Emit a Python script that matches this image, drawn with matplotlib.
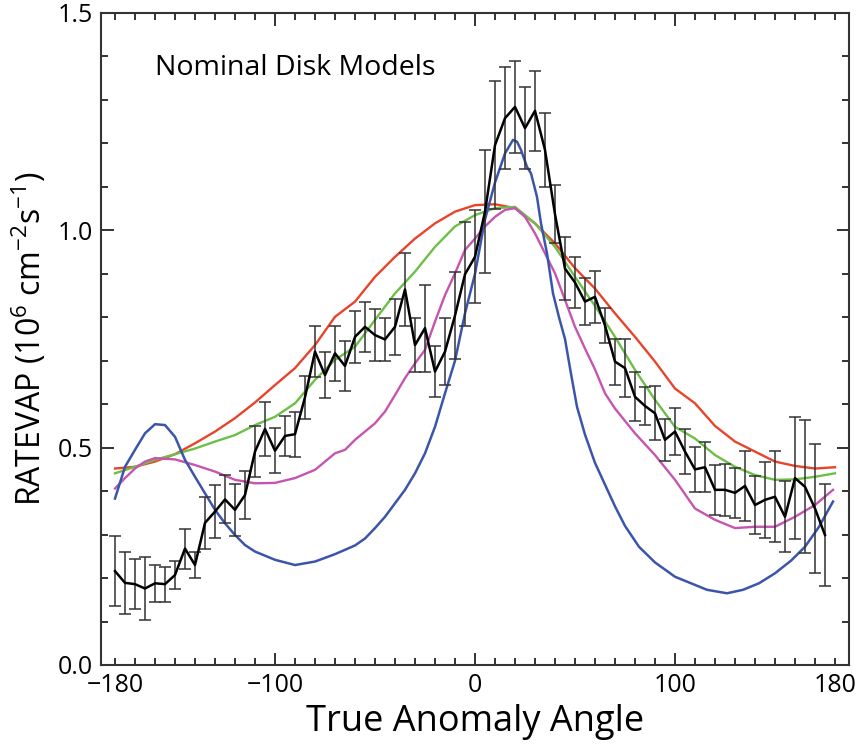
import matplotlib
matplotlib.use("Agg")
import matplotlib.pyplot as plt
from matplotlib.ticker import MultipleLocator, FixedLocator, FormatStrFormatter

plt.rcParams['font.family'] = ['Open Sans', 'DejaVu Sans']
plt.rcParams['mathtext.default'] = 'regular'

# observed rate (black, with error bars), every 5 degrees
obs_angle = list(range(-180, 180, 5))
obs_rate = [0.216, 0.189, 0.186, 0.176, 0.188, 0.186, 0.207, 0.268, 0.230, 0.327,
            0.353, 0.381, 0.357, 0.391, 0.491, 0.543, 0.493, 0.527, 0.531, 0.616,
            0.721, 0.667, 0.717, 0.688, 0.755, 0.778, 0.759, 0.749, 0.778, 0.864,
            0.736, 0.775, 0.675, 0.721, 0.804, 0.899, 0.939, 1.043, 1.196, 1.258,
            1.284, 1.235, 1.275, 1.185, 1.037, 0.912, 0.880, 0.836, 0.847, 0.781,
            0.698, 0.683, 0.617, 0.596, 0.579, 0.518, 0.537, 0.491, 0.450, 0.455,
            0.403, 0.403, 0.396, 0.412, 0.368, 0.380, 0.387, 0.341, 0.430, 0.410,
            0.360, 0.299]
obs_err = [0.080, 0.071, 0.058, 0.073, 0.043, 0.040, 0.033, 0.046, 0.030, 0.059,
           0.061, 0.055, 0.060, 0.056, 0.059, 0.063, 0.052, 0.047, 0.052, 0.050,
           0.058, 0.052, 0.063, 0.058, 0.060, 0.058, 0.060, 0.050, 0.065, 0.085,
           0.062, 0.100, 0.058, 0.077, 0.100, 0.120, 0.107, 0.142, 0.148, 0.118,
           0.105, 0.094, 0.092, 0.085, 0.067, 0.072, 0.059, 0.054, 0.060, 0.040,
           0.053, 0.066, 0.056, 0.044, 0.062, 0.048, 0.054, 0.052, 0.052, 0.058,
           0.058, 0.060, 0.058, 0.080, 0.066, 0.088, 0.105, 0.082, 0.140, 0.153,
           0.148, 0.118]

# model curves
grid_angle = list(range(-180, 181, 10))
red_rate = [0.452, 0.456, 0.468, 0.485, 0.510, 0.537, 0.568, 0.604, 0.644, 0.683,
            0.736, 0.801, 0.836, 0.893, 0.939, 0.981, 1.016, 1.043, 1.058, 1.060,
            1.051, 1.016, 0.970, 0.913, 0.866, 0.809, 0.755, 0.698, 0.636, 0.602,
            0.550, 0.514, 0.491, 0.468, 0.458, 0.452, 0.455]
green_rate = [0.441, 0.456, 0.472, 0.485, 0.498, 0.514, 0.529, 0.552, 0.571, 0.602,
              0.656, 0.702, 0.732, 0.794, 0.855, 0.905, 0.962, 1.009, 1.035, 1.051,
              1.054, 1.016, 0.962, 0.893, 0.826, 0.755, 0.679, 0.610, 0.548, 0.521,
              0.483, 0.456, 0.437, 0.426, 0.427, 0.433, 0.441]

magenta_angle = [-180, -175, -170, -165, -160, -150, -140, -130, -120, -110, -100,
                 -90, -80, -70, -65, -60, -55, -50, -45, -40, -35, -30, -25, -20,
                 -15, -10, -5, 0, 5, 10, 15, 20, 25, 30, 35, 40, 45, 50, 55, 60,
                 65, 70, 80, 90, 100, 110, 120, 130, 140, 150, 160, 170, 179]
magenta_rate = [0.406, 0.430, 0.452, 0.468, 0.476, 0.473, 0.460, 0.445, 0.426, 0.418,
                0.419, 0.430, 0.449, 0.487, 0.495, 0.518, 0.537, 0.556, 0.583, 0.621,
                0.660, 0.694, 0.725, 0.790, 0.851, 0.901, 0.955, 0.981, 1.009, 1.031,
                1.047, 1.051, 1.031, 0.993, 0.947, 0.901, 0.840, 0.778, 0.728, 0.680,
                0.625, 0.590, 0.533, 0.483, 0.426, 0.360, 0.334, 0.315, 0.318, 0.318,
                0.341, 0.368, 0.403]

blue_angle = [-180, -175, -170, -165, -160, -155, -150, -145, -140, -135, -130,
              -125, -120, -115, -110, -100, -90, -80, -70, -60, -55, -50, -45,
              -40, -35, -30, -25, -20, -15, -10, -5, 0, 5, 10, 15, 19, 21, 23,
              26, 28, 31, 33, 36, 39, 42, 45, 48, 51, 55, 60, 65, 70, 75, 82,
              90, 100, 108, 116, 126, 134, 142, 150, 158, 165, 172, 179]
blue_rate = [0.383, 0.456, 0.495, 0.533, 0.554, 0.552, 0.525, 0.472, 0.433, 0.395,
             0.357, 0.326, 0.299, 0.276, 0.261, 0.242, 0.230, 0.238, 0.255, 0.275,
             0.291, 0.315, 0.341, 0.372, 0.403, 0.441, 0.487, 0.548, 0.625, 0.700,
             0.809, 0.900, 1.025, 1.110, 1.177, 1.208, 1.204, 1.185, 1.146, 1.131,
             1.077, 1.016, 0.947, 0.855, 0.800, 0.750, 0.670, 0.594, 0.530, 0.465,
             0.415, 0.365, 0.320, 0.272, 0.236, 0.203, 0.188, 0.173, 0.165, 0.173,
             0.188, 0.211, 0.240, 0.272, 0.318, 0.376]

fig = plt.figure(figsize=(8.57, 7.45), dpi=100)
ax = fig.add_axes([101 / 857, 80 / 745, 748 / 857, 652 / 745])

ax.plot(grid_angle, red_rate, color='#e8442c', lw=1.7)
ax.plot(grid_angle, green_rate, color='#6dbf47', lw=1.7)
ax.plot(magenta_angle, magenta_rate, color='#c555b0', lw=1.7)
ax.plot(blue_angle, blue_rate, color='#3b55aa', lw=1.8)
ax.errorbar(obs_angle, obs_rate, yerr=obs_err, color='black', lw=1.8,
            ecolor='#333333', elinewidth=1.1, capsize=4.3, capthick=1.1)

ax.set_xlim(-187, 187)
ax.set_ylim(0, 1.5)
ax.xaxis.set_major_locator(FixedLocator([-180, -100, 0, 100, 180]))
ax.xaxis.set_minor_locator(MultipleLocator(10))
ax.yaxis.set_major_locator(FixedLocator([0.0, 0.5, 1.0, 1.5]))
ax.yaxis.set_minor_locator(MultipleLocator(0.1))
ax.yaxis.set_major_formatter(FormatStrFormatter('%.1f'))

ax.tick_params(which='both', direction='in', top=True, right=True,
               color='#333333', width=1.4, labelsize=18)
ax.tick_params(which='major', length=9)
ax.tick_params(which='minor', length=5)
ax.tick_params(axis='x', pad=6)
ax.tick_params(axis='y', pad=6)
# the end ticks at +-180 are drawn short
for t in (ax.xaxis.get_major_ticks()[0], ax.xaxis.get_major_ticks()[-1]):
    t.tick1line.set_markersize(5)
    t.tick2line.set_markersize(5)

for s in ax.spines.values():
    s.set_linewidth(1.5)
    s.set_color('#333333')

ax.set_xlabel('True Anomaly Angle', fontsize=26, labelpad=4)
ax.set_ylabel('RATEVAP (10$^{6}$ cm$^{-2}$s$^{-1}$)', fontsize=23, labelpad=6)

ax.text(0.072, 0.916, 'Nominal Disk Models', transform=ax.transAxes,
        fontsize=20.5, va='center', ha='left')

fig.savefig('out.png', dpi=100)
